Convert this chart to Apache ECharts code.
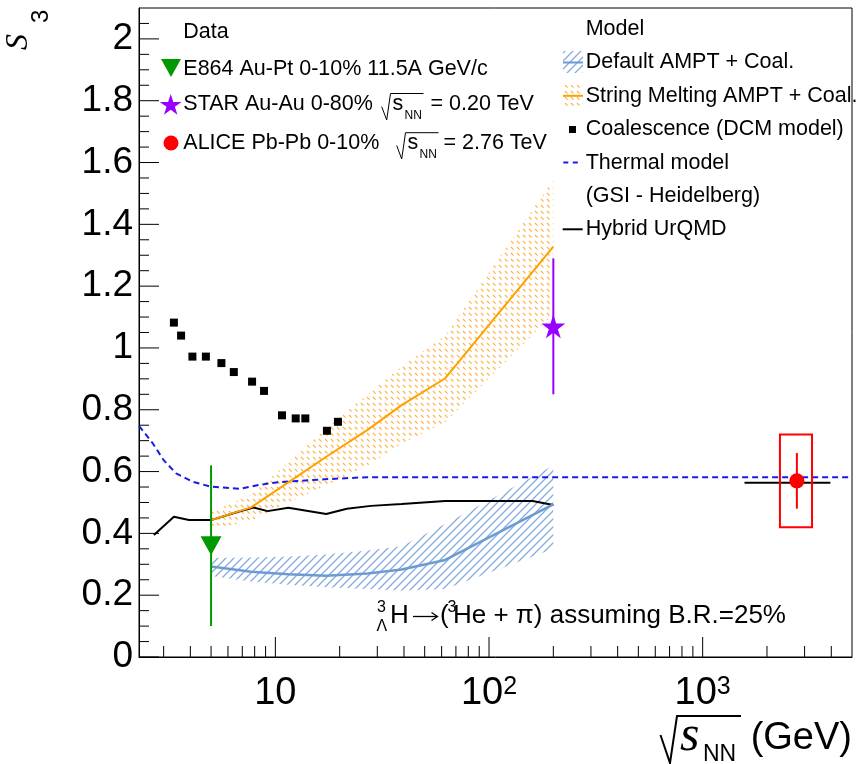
<!DOCTYPE html>
<html>
<head>
<meta charset="utf-8">
<script src="https://cdn.jsdelivr.net/npm/echarts@6/dist/echarts.min.js"></script>
<style>
  html, body { margin: 0; padding: 0; background: #fff; }
  #chart { width: 856px; height: 764px; }
</style>
</head>
<body>
<div id="chart"></div>
<script>
// ---------------- data ----------------
// Collision energy grid of the AMPT calculations (GeV)
const amptEnergy = [5, 7.7, 11.5, 17.3, 27, 39, 62.4, 200];
const amptDefault = [0.293, 0.276, 0.268, 0.263, 0.270, 0.283, 0.314, 0.494];
const amptDefaultLow = [0.262, 0.244, 0.234, 0.226, 0.220, 0.215, 0.220, 0.350];
const amptDefaultHigh = [0.320, 0.322, 0.325, 0.332, 0.345, 0.358, 0.430, 0.620];
const amptMelting = [0.443, 0.484, 0.565, 0.648, 0.735, 0.815, 0.902, 1.328];
const amptMeltingLow = [0.415, 0.440, 0.500, 0.555, 0.620, 0.690, 0.760, 1.110];
const amptMeltingHigh = [0.470, 0.525, 0.630, 0.740, 0.850, 0.940, 1.040, 1.545];

// Coalescence, DCM model
const dcmEnergy = [3.35, 3.62, 4.09, 4.73, 5.59, 6.39, 7.78, 8.85, 10.74, 12.45, 13.81, 17.43, 19.63];
const dcmS3 = [1.082, 1.040, 0.972, 0.972, 0.951, 0.922, 0.891, 0.861, 0.782, 0.772, 0.772, 0.732, 0.761];

// Thermal model (GSI - Heidelberg)
const thermalEnergy = [2.3, 2.67, 3, 3.43, 4.1, 5, 6.8, 8.4, 10.4, 17, 27, 5000];
const thermalS3 = [0.748, 0.691, 0.637, 0.594, 0.567, 0.551, 0.544, 0.557, 0.566, 0.575, 0.582, 0.582];

// Hybrid UrQMD
const urqmdEnergy = [2.7, 3.35, 3.94, 5, 6.7, 7.9, 9.2, 11.5, 17.3, 21.6, 28, 39, 62.4, 160, 200];
const urqmdS3 = [0.395, 0.454, 0.443, 0.443, 0.470, 0.484, 0.472, 0.483, 0.463, 0.480, 0.489, 0.495, 0.505, 0.505, 0.492];
const urqmdLhcEnergy = [1570, 3960];
const urqmdLhcS3 = [0.564, 0.564];

// Measurements: [energy, S3, error]
const e864Point = [5, 0.36, 0.26];
const starPoint = [200, 1.07, 0.22];
const alicePoint = [2760, 0.57, 0.09];
const aliceSys = 0.15;
const aliceSysEnergy = [2300, 3250];

// axes
const xMin = 2.3, xMax = 5000, yMin = 0, yMax = 2.1;
const xMajorTicks = [10, 100, 1000];
const xMinorTicks = [3, 4, 5, 6, 7, 8, 9, 20, 30, 40, 50, 60, 70, 80, 90,
  200, 300, 400, 500, 600, 700, 800, 900, 2000, 3000, 4000];
const xLabelValues = [10, 100, 1000];
const xLabelTexts = ['{b|10}', '{b|10}{s|2}', '{b|10}{s|3}'];
const yMajorTicks = [0, 0.2, 0.4, 0.6, 0.8, 1, 1.2, 1.4, 1.6, 1.8, 2];
const yMinorTicks = [0.05, 0.1, 0.15, 0.25, 0.3, 0.35, 0.45, 0.5, 0.55, 0.65, 0.7, 0.75,
  0.85, 0.9, 0.95, 1.05, 1.1, 1.15, 1.25, 1.3, 1.35, 1.45, 1.5, 1.55, 1.65, 1.7, 1.75,
  1.85, 1.9, 1.95, 2.05];
const yLabelValues = [0, 0.2, 0.4, 0.6, 0.8, 1, 1.2, 1.4, 1.6, 1.8, 2];
const yLabelTexts = ['0', '0.2', '0.4', '0.6', '0.8', '1', '1.2', '1.4', '1.6', '1.8', '2'];

// ---------------- style ----------------
const SANS = '"Liberation Sans", Arial, sans-serif';
const SERIF = '"Liberation Serif", "Times New Roman", serif';
const C_GREEN = '#009a00';
const C_VIOLET = '#9a00ff';
const C_RED = '#ff0000';
const C_ORANGE = '#ffa000';
const C_BLUE_LINE = '#6b9bd1';
const C_BLUE_HATCH = '#86abdf';
const C_THERMAL = '#1a1ae6';
// five-pointed star outline in a 100x100 box
const STAR_PTS = [[50, 0], [61.17, 34.63], [97.55, 34.55], [68.07, 55.87], [79.39, 90.45],
  [50, 69], [20.61, 90.45], [31.93, 55.87], [2.45, 34.55], [38.83, 34.63]];
const STAR_PATH = 'path://M' + STAR_PTS.map(p => p[0] + ' ' + p[1]).join(' L') + ' Z';

function hatchPattern(kind) {
  const c = document.createElement('canvas');
  if (kind === 'blue') {
    c.width = 8; c.height = 8;
    const g = c.getContext('2d');
    g.strokeStyle = C_BLUE_HATCH; g.lineWidth = 1.3;
    g.beginPath();
    g.moveTo(-1, 9); g.lineTo(9, -1);
    g.moveTo(-1, 1); g.lineTo(1, -1);
    g.moveTo(7, 9); g.lineTo(9, 7);
    g.stroke();
  } else {
    c.width = 6; c.height = 6;
    const g = c.getContext('2d');
    g.strokeStyle = 'rgba(255,160,20,0.8)'; g.lineWidth = 1.2;
    g.beginPath();
    g.moveTo(1, 1); g.lineTo(3.6, 3.6);
    g.stroke();
  }
  return { image: c, repeat: 'repeat' };
}
const blueHatch = hatchPattern('blue');
const orangeHatch = hatchPattern('orange');

function pairs(xs, ys) { return xs.map((x, i) => [x, ys[i]]); }

function bandSeries(name, low, high, fill) {
  return {
    type: 'custom', name, silent: true, z: 1,
    data: amptEnergy.map((e, i) => [e, low[i], high[i]]),
    renderItem(params, api) {
      if (params.dataIndex !== 0) return null;
      const n = params.dataInsideLength;
      const pts = [];
      for (let j = 0; j < n; j++) pts.push(api.coord([api.value(0, j), api.value(2, j)]));
      for (let j = n - 1; j >= 0; j--) pts.push(api.coord([api.value(0, j), api.value(1, j)]));
      return { type: 'polygon', shape: { points: pts }, style: { fill, stroke: null } };
    }
  };
}

function errorBarSeries(name, point, color) {
  return {
    type: 'custom', name, silent: true, z: 4,
    data: [[point[0], point[1] - point[2], point[1] + point[2]]],
    renderItem(params, api) {
      const a = api.coord([api.value(0), api.value(1)]);
      const b = api.coord([api.value(0), api.value(2)]);
      return { type: 'line', shape: { x1: a[0], y1: a[1], x2: b[0], y2: b[1] },
        style: { stroke: color, lineWidth: 2 } };
    }
  };
}

function tickSeries(name, rows, vertical) {
  return {
    type: 'custom', name, silent: true, clip: false, z: 6,
    data: rows,
    renderItem(params, api) {
      const p = api.coord([api.value(0), api.value(1)]);
      const major = api.value(2) === 1;
      if (vertical) {
        const len = major ? 20 : 11;
        return { type: 'line', shape: { x1: p[0], y1: p[1], x2: p[0], y2: p[1] - len }, style: { stroke: '#000', lineWidth: 1 } };
      }
      const len = major ? 20 : 10;
      return { type: 'line', shape: { x1: p[0], y1: p[1], x2: p[0] + len, y2: p[1] }, style: { stroke: '#000', lineWidth: 1 } };
    }
  };
}

// ---------------- text helpers ----------------
function txt(text, x, baseline, size, opt) {
  opt = opt || {};
  const font = (opt.italic ? 'italic ' : '') + size + 'px ' + (opt.serif ? SERIF : SANS);
  return {
    type: 'text', silent: true, z: 100,
    style: {
      text, x, y: baseline - 0.345 * size, font,
      fill: opt.color || '#000',
      textAlign: opt.align || 'left', align: opt.align || 'left',
      textVerticalAlign: 'middle', verticalAlign: 'middle'
    }
  };
}
function poly(points, color, width, dash) {
  return { type: 'polyline', silent: true, z: 100, shape: { points },
    style: { stroke: color || '#000', lineWidth: width || 1, fill: null, lineDash: dash || null } };
}
function starIcon(cx, cy, size, color) {
  const pts = STAR_PTS.map(p => [cx + (p[0] - 50) * size / 100, cy + (p[1] - 50) * size / 100]);
  return { type: 'polygon', silent: true, z: 100, shape: { points: pts }, style: { fill: color } };
}

const LEG = 21.5;
const legendLeft = [
  txt('Data', 183.3, 39, LEG),
  { type: 'polygon', silent: true, z: 100, shape: { points: [[161, 59], [181, 59], [171, 77]] }, style: { fill: C_GREEN } },
  txt('E864 Au-Pt 0-10% 11.5A GeV/c', 183.3, 76, LEG),
  starIcon(170.7, 105.5, 23, C_VIOLET),
  txt('STAR Au-Au 0-80%', 183.3, 111.7, LEG),
  poly([[381.7, 106.7], [386.7, 120], [390.5, 93.5], [423.5, 93.5]], '#000', 1),
  txt('s', 392.5, 111.7, LEG),
  txt('NN', 404.5, 120, 12),
  txt('= 0.20 TeV', 430.5, 111.7, LEG),
  { type: 'circle', silent: true, z: 100, shape: { cx: 171, cy: 143, r: 7.5 }, style: { fill: C_RED } },
  txt('ALICE Pb-Pb 0-10%', 183.3, 150.7, LEG),
  poly([[396.7, 145.5], [401.7, 159], [405.5, 132.7], [438.5, 132.7]], '#000', 1),
  txt('s', 407.5, 150.7, LEG),
  txt('NN', 419.5, 158.5, 12),
  txt('= 2.76 TeV', 443.5, 150.7, LEG)
];

const RX = 585.7;
const legendRight = [
  txt('Model', RX, 36.5, LEG),
  { type: 'rect', silent: true, z: 100, shape: { x: 563, y: 51, width: 20, height: 22 }, style: { fill: blueHatch } },
  poly([[563, 62.5], [583, 62.5]], C_BLUE_LINE, 2),
  txt('Default AMPT + Coal.', RX, 69.9, LEG),
  { type: 'rect', silent: true, z: 100, shape: { x: 563, y: 85, width: 20, height: 22 }, style: { fill: orangeHatch } },
  poly([[563, 95.8], [583, 95.8]], C_ORANGE, 2),
  txt('String Melting AMPT + Coal.', RX, 103.3, LEG),
  { type: 'rect', silent: true, z: 100, shape: { x: 569, y: 126, width: 7, height: 7 }, style: { fill: '#000' } },
  txt('Coalescence (DCM model)', RX, 136.7, LEG),
  poly([[563.3, 162.4], [578.2, 162.4]], C_THERMAL, 2, [5, 4.5]),
  txt('Thermal model', RX, 170.1, LEG),
  txt('(GSI - Heidelberg)', RX, 203.5, LEG),
  poly([[562.7, 229.3], [582.7, 229.3]], '#000', 2),
  txt('Hybrid UrQMD', RX, 236.9, LEG)
];

const annotation = [
  txt('3', 377, 613.3, 16),
  txt('\u039B', 376.5, 632, 16),
  txt('H', 390, 625, 26),
  poly([[413, 616.5], [437, 616.5]], '#000', 1.3),
  poly([[431.5, 612.5], [437.5, 616.5], [431.5, 620.5]], '#000', 1.3),
  txt('(', 440, 625, 26),
  txt('3', 447.5, 613.3, 16),
  txt('He + \u03C0) assuming B.R.=25%', 453, 625, 26)
];

const axisTitles = [
  // x title: sqrt(s_NN) (GeV)
  poly([[660.5, 735], [670, 763], [677, 716], [741, 716]], '#000', 2),
  txt('s', 680, 754, 50, { italic: true, serif: true }),
  txt('NN', 703, 763, 23),
  txt('(GeV)', 852, 752, 38, { align: 'right' }),
  // y title: S_3 (rotated)
  { type: 'group', x: 30, y: 50, rotation: Math.PI / 2, children: [
    txt('S', 0, 0, 32, { italic: true, serif: true }),
    txt('3', 27, 20, 24)
  ] }
];

function xLabel(v) {
  for (let i = 0; i < xLabelValues.length; i++) {
    if (Math.abs(Math.log10(v) - Math.log10(xLabelValues[i])) < 1e-6) return xLabelTexts[i];
  }
  return '';
}
function yLabel(v) {
  for (let i = 0; i < yLabelValues.length; i++) {
    if (Math.abs(v - yLabelValues[i]) < 1e-6) return yLabelTexts[i];
  }
  return '';
}

const chart = echarts.init(document.getElementById('chart'), null, { renderer: 'canvas' });
chart.setOption({
  animation: false,
  backgroundColor: '#fff',
  textStyle: { fontFamily: SANS },
  grid: { left: 139, right: 4, top: 8, bottom: 107, show: true, borderColor: '#000', borderWidth: 1, backgroundColor: 'transparent' },
  xAxis: {
    type: 'log', logBase: 10, min: xMin, max: xMax,
    axisLine: { show: true, onZero: false, lineStyle: { color: '#000', width: 1 } },
    axisTick: { show: false }, minorTick: { show: false }, splitLine: { show: false },
    axisLabel: {
      interval: 0, margin: 18, color: '#000', fontSize: 38, fontFamily: SANS,
      showMinLabel: false, showMaxLabel: false, hideOverlap: false,
      formatter: xLabel,
      rich: {
        b: { fontSize: 38, fontFamily: SANS, color: '#000', lineHeight: 38 },
        s: { fontSize: 25, fontFamily: SANS, color: '#000', verticalAlign: 'top', lineHeight: 14 }
      }
    }
  },
  yAxis: {
    type: 'value', min: yMin, max: yMax, interval: 0.2,
    axisLine: { show: true, onZero: false, lineStyle: { color: '#000', width: 1 } },
    axisTick: { show: false }, minorTick: { show: false }, splitLine: { show: false },
    axisLabel: { margin: 6, color: '#000', fontSize: 37, fontFamily: SANS, showMaxLabel: false, formatter: yLabel }
  },
  series: [
    bandSeries('Default AMPT band', amptDefaultLow, amptDefaultHigh, blueHatch),
    bandSeries('String Melting AMPT band', amptMeltingLow, amptMeltingHigh, orangeHatch),
    { type: 'line', name: 'Hybrid UrQMD', data: pairs(urqmdEnergy, urqmdS3), symbol: 'none', z: 2,
      lineStyle: { color: '#000', width: 2 } },
    { type: 'line', name: 'Hybrid UrQMD LHC', data: pairs(urqmdLhcEnergy, urqmdLhcS3), symbol: 'none', z: 2,
      lineStyle: { color: '#000', width: 2 } },
    { type: 'line', name: 'Thermal model', data: pairs(thermalEnergy, thermalS3), symbol: 'none', z: 2,
      lineStyle: { color: C_THERMAL, width: 2, type: [6, 4] } },
    { type: 'line', name: 'Default AMPT + Coal.', data: pairs(amptEnergy, amptDefault), symbol: 'none', z: 2,
      lineStyle: { color: C_BLUE_LINE, width: 2.5 } },
    { type: 'line', name: 'String Melting AMPT + Coal.', data: pairs(amptEnergy, amptMelting), symbol: 'none', z: 2,
      lineStyle: { color: C_ORANGE, width: 2 } },
    { type: 'scatter', name: 'Coalescence (DCM model)', data: pairs(dcmEnergy, dcmS3), symbol: 'rect', symbolSize: 8, z: 3,
      itemStyle: { color: '#000', opacity: 1 } },
    {
      type: 'custom', name: 'ALICE sys', silent: true, z: 4,
      data: [[aliceSysEnergy[0], alicePoint[1] - aliceSys, aliceSysEnergy[1], alicePoint[1] + aliceSys]],
      renderItem(params, api) {
        const a = api.coord([api.value(0), api.value(3)]);
        const b = api.coord([api.value(2), api.value(1)]);
        return { type: 'rect', shape: { x: a[0], y: a[1], width: b[0] - a[0], height: b[1] - a[1] },
          style: { stroke: C_RED, lineWidth: 2, fill: null } };
      }
    },
    errorBarSeries('E864 error', e864Point, C_GREEN),
    errorBarSeries('STAR error', starPoint, C_VIOLET),
    errorBarSeries('ALICE error', alicePoint, C_RED),
    { type: 'scatter', name: 'E864 Au-Pt 0-10% 11.5A GeV/c', data: [[e864Point[0], e864Point[1]]], z: 5,
      symbol: 'triangle', symbolRotate: 180, symbolSize: [21, 19], itemStyle: { color: C_GREEN, opacity: 1 } },
    { type: 'scatter', name: 'STAR Au-Au 0-80%', data: [[starPoint[0], starPoint[1]]], z: 5,
      symbol: STAR_PATH, symbolSize: 24, itemStyle: { color: C_VIOLET, opacity: 1 } },
    { type: 'scatter', name: 'ALICE Pb-Pb 0-10%', data: [[alicePoint[0], alicePoint[1]]], z: 5,
      symbol: 'circle', symbolSize: 15, itemStyle: { color: C_RED, opacity: 1 } },
    tickSeries('x ticks', xMinorTicks.map(v => [v, yMin, 0]).concat(xMajorTicks.map(v => [v, yMin, 1])), true),
    tickSeries('y ticks', yMinorTicks.map(v => [xMin, v, 0]).concat(yMajorTicks.map(v => [xMin, v, 1])), false)
  ],
  graphic: legendLeft.concat(legendRight, annotation, axisTitles)
});
</script>
</body>
</html>
